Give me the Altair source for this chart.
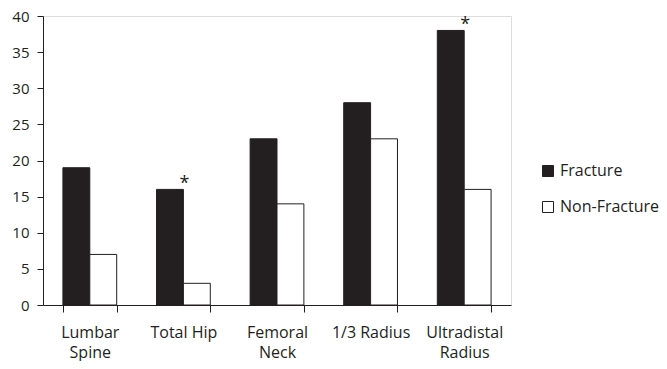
import altair as alt
import pandas as pd

sites = ["Lumbar Spine", "Total Hip", "Femoral Neck", "1/3 Radius", "Ultradistal Radius"]
fracture = [19, 16, 23, 28, 38]
non_fracture = [7, 3, 14, 23, 16]
series = ["Fracture", "Non-Fracture"]
starred = ["Total Hip", "Ultradistal Radius"]

rows = []
for s, f, n in zip(sites, fracture, non_fracture):
    rows.append({"site": s, "series": "Fracture", "value": f})
    rows.append({"site": s, "series": "Non-Fracture", "value": n})
df = pd.DataFrame(rows)
stars = df[(df["series"] == "Fracture") & (df["site"].isin(starred))].copy()
stars["mark"] = "*"

FONT = "Open Sans"
INK = "#231f20"

x = alt.X(
    "site:N",
    sort=sites,
    title=None,
    scale=alt.Scale(paddingInner=0.4255, paddingOuter=0.2128),
    axis=alt.Axis(
        labelAngle=0,
        tickBand="extent",
        tickSize=7,
        labelPadding=12,
        labelFontSize=16,
        labelFont=FONT,
        labelColor=INK,
        labelLineHeight=20,
        domainColor=INK,
        tickColor=INK,
        labelExpr="(datum.label == 'Total Hip' || datum.label == '1/3 Radius') ? datum.label : split(datum.label, ' ')",
    ),
)
y = alt.Y(
    "value:Q",
    title=None,
    scale=alt.Scale(domain=[0, 40]),
    axis=alt.Axis(
        values=list(range(0, 41, 5)),
        grid=False,
        tickSize=6,
        labelPadding=8,
        labelFontSize=15,
        labelFont=FONT,
        labelColor=INK,
        domainColor=INK,
        tickColor=INK,
    ),
)
xo = alt.XOffset("series:N", scale=alt.Scale(domain=series))

bars = alt.Chart(df).mark_bar(stroke=INK, strokeWidth=1).encode(
    x=x,
    y=y,
    xOffset=xo,
    fill=alt.Fill(
        "series:N",
        scale=alt.Scale(domain=series, range=[INK, "white"]),
        legend=alt.Legend(
            title=None,
            orient="none",
            legendX=497,
            legendY=147,
            padding=0,
            symbolType="square",
            symbolSize=121,
            symbolStrokeColor=INK,
            symbolStrokeWidth=1,
            labelFont=FONT,
            labelFontSize=16,
            labelColor=INK,
            rowPadding=20,
            labelOffset=4,
        ),
    ),
)

text = alt.Chart(stars).mark_text(
    baseline="alphabetic", dx=1, dy=0, fontSize=18, font=FONT, color=INK
).encode(x=x, y=y, text="mark:N")

chart = (
    alt.layer(bars, text)
    .properties(
        width=468,
        height=289,
        padding={"left": 35, "top": 8, "right": 148, "bottom": 56},
        autosize=alt.AutoSizeParams(type="none"),
    )
    .configure_view(stroke=None)
    .configure(background="white")
)

chart.save("out.html", embed_options={"renderer": "svg", "actions": False})
